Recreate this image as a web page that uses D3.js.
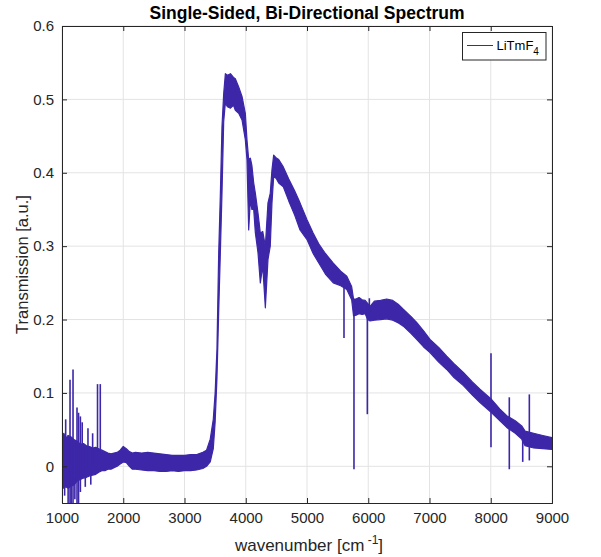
<!DOCTYPE html>
<html><head><meta charset="utf-8">
<script src="https://cdn.jsdelivr.net/npm/d3@7"></script>
<style>body{margin:0;background:#fff}svg{display:block}</style>
</head><body>
<svg id="c" width="601" height="557"></svg>
<script>
// ---- data (envelope of the noisy trace) ----
const wavenumber = [1000,1030,1060,1100,1150,1200,1250,1300,1350,1400,1450,1500,1550,1600,1650,1700,1750,1800,1850,1900,1950,2000,2050,2100,2150,2200,2300,2400,2500,2600,2700,2800,2900,3000,3100,3200,3300,3360,3420,3470,3500,3530,3558,3585,3612,3640,3667,3700,3750,3800,3830,3885,3939,3993,4020,4048,4075,4100,4130,4157,4200,4238,4277,4320,4363,4400,4428,4456,4500,4538,4613,4700,4800,4886,5000,5100,5200,5300,5429,5550,5650,5729,5760,5800,5850,5900,5950,5990,6030,6100,6200,6300,6400,6500,6572,6700,6790,6900,7008,7150,7281,7400,7553,7700,7824,8015,8150,8261,8400,8506,8560,8700,8850,9000];
const upperEnv = [0.040,0.045,0.038,0.042,0.040,0.036,0.034,0.030,0.031,0.028,0.027,0.025,0.026,0.024,0.022,0.020,0.018,0.017,0.018,0.019,0.022,0.027,0.024,0.020,0.018,0.019,0.018,0.019,0.018,0.017,0.016,0.015,0.015,0.015,0.016,0.016,0.019,0.022,0.037,0.064,0.10,0.16,0.29,0.37,0.463,0.508,0.535,0.533,0.535,0.530,0.528,0.517,0.504,0.481,0.445,0.418,0.420,0.410,0.386,0.372,0.345,0.318,0.320,0.300,0.359,0.372,0.404,0.424,0.420,0.418,0.408,0.392,0.375,0.359,0.336,0.318,0.302,0.290,0.277,0.266,0.259,0.245,0.228,0.228,0.230,0.227,0.226,0.222,0.218,0.225,0.226,0.228,0.226,0.220,0.214,0.204,0.196,0.185,0.173,0.162,0.150,0.140,0.128,0.115,0.105,0.091,0.078,0.069,0.062,0.055,0.048,0.045,0.042,0.039];
const lowerEnv = [-0.025,-0.030,-0.028,-0.030,-0.027,-0.025,-0.020,-0.018,-0.016,-0.015,-0.013,-0.012,-0.011,-0.008,-0.006,-0.006,-0.004,-0.004,-0.002,0.000,0.003,0.006,0.005,0.000,-0.004,-0.004,-0.005,-0.006,-0.006,-0.007,-0.007,-0.006,-0.007,-0.006,-0.006,-0.005,-0.003,0.000,0.006,0.024,0.06,0.12,0.21,0.29,0.372,0.47,0.495,0.490,0.488,0.492,0.485,0.481,0.472,0.445,0.418,0.322,0.363,0.350,0.350,0.318,0.291,0.250,0.273,0.216,0.282,0.300,0.359,0.395,0.392,0.386,0.381,0.362,0.342,0.322,0.309,0.290,0.276,0.262,0.250,0.246,0.241,0.227,0.205,0.206,0.208,0.207,0.208,0.200,0.198,0.199,0.200,0.201,0.199,0.195,0.191,0.181,0.173,0.163,0.155,0.142,0.132,0.121,0.110,0.097,0.087,0.073,0.062,0.053,0.045,0.037,0.028,0.025,0.024,0.023];
// isolated spikes (top / bottom value of each)
const spikeWn     = [1043,1060,1100,1131,1150,1180,1210,1245,1270,1300,1330,1380,1424,1470,1500,1580,1625,5604,5767,5985,6018,8004,8303,8522,8630];
const spikeTop    = [0.030,0.064,0.035,0.118,0.035,0.132,0.035,0.080,0.073,0.068,0.060,0.025,0.052,0.025,0.045,0.112,0.112,0.255,0.228,0.222,0.229,0.154,0.094,0.050,0.098];
const spikeBottom = [-0.040,-0.020,-0.060,-0.060,-0.060,-0.060,-0.045,-0.060,-0.060,-0.035,-0.010,-0.028,0.000,-0.025,0.000,0.020,0.020,0.175,-0.004,0.071,0.205,0.026,-0.004,0.006,0.008];
const xTicks = [1000,2000,3000,4000,5000,6000,7000,8000,9000];
const yTicks = [0,0.1,0.2,0.3,0.4,0.5,0.6];
const seriesName = "LiTmF";

const svg = d3.select("#c");
const M = {l:62, r:552, t:26, b:503};
const x = d3.scaleLinear().domain([1000,9000]).range([M.l, M.r]);
const y = d3.scaleLinear().domain([-0.05,0.6]).range([M.b, M.t]);
const col = "#3d27a8", axc = "#262626", font = "Liberation Sans, Arial, Helvetica, sans-serif";

svg.append("defs").append("clipPath").attr("id","clip")
  .append("rect").attr("x",M.l).attr("y",M.t).attr("width",M.r-M.l).attr("height",M.b-M.t);

// grid
const g = svg.append("g");
g.selectAll(".gx").data(xTicks).join("line")
  .attr("x1",d=>x(d)).attr("x2",d=>x(d)).attr("y1",M.t).attr("y2",M.b)
  .attr("stroke","#e3e3e3").attr("stroke-width",1);
g.selectAll(".gy").data(yTicks).join("line")
  .attr("y1",d=>y(d)).attr("y2",d=>y(d)).attr("x1",M.l).attr("x2",M.r)
  .attr("stroke","#e3e3e3").attr("stroke-width",1);

// data
const pts = wavenumber.map((w,i)=>({w, hi:upperEnv[i], lo:lowerEnv[i]}));
const plot = svg.append("g").attr("clip-path","url(#clip)");
plot.append("path").datum(pts)
  .attr("d", d3.area().x(d=>x(d.w)).y0(d=>y(d.lo)).y1(d=>y(d.hi)))
  .attr("fill",col).attr("stroke",col).attr("stroke-width",1.2).attr("stroke-linejoin","round");
plot.selectAll(".sp").data(spikeWn.map((w,i)=>({w,t:spikeTop[i],b:spikeBottom[i]}))).join("line")
  .attr("x1",d=>x(d.w)).attr("x2",d=>x(d.w)).attr("y1",d=>y(d.t)).attr("y2",d=>y(d.b))
  .attr("stroke",col).attr("stroke-width",1.6);

// axes (box with inward ticks on all sides)
const tl = 5;
const axB = d3.axisBottom(x).tickValues(xTicks).tickSize(-tl).tickPadding(9).tickFormat(d3.format("d"));
const axT = d3.axisTop(x).tickValues(xTicks).tickSize(-tl).tickFormat("");
const axL = d3.axisLeft(y).tickValues(yTicks).tickSize(-tl).tickPadding(8).tickFormat(d=>d===0?"0":d3.format(".1f")(d));
const axR = d3.axisRight(y).tickValues(yTicks).tickSize(-tl).tickFormat("");
function styleAxis(sel){
  sel.selectAll("path,line").attr("stroke",axc);
  sel.select(".domain").attr("stroke-width",1);
  sel.selectAll("text").attr("fill",axc).style("font-family",font).style("font-size","15px");
}
svg.append("g").attr("transform",`translate(0,${M.b})`).call(axB).call(styleAxis);
svg.append("g").attr("transform",`translate(0,${M.t})`).call(axT).call(styleAxis);
svg.append("g").attr("transform",`translate(${M.l},0)`).call(axL).call(styleAxis);
svg.append("g").attr("transform",`translate(${M.r},0)`).call(axR).call(styleAxis);

// title & labels
svg.append("text").attr("x",(M.l+M.r)/2).attr("y",19).attr("text-anchor","middle")
  .style("font-family",font).style("font-size","17.5px").style("font-weight","bold").attr("fill","#000")
  .text("Single-Sided, Bi-Directional Spectrum");
const xl = svg.append("text").attr("x",(M.l+M.r)/2+2).attr("y",551).attr("text-anchor","middle")
  .style("font-family",font).style("font-size","17px").attr("fill",axc);
xl.append("tspan").text("wavenumber [cm");
xl.append("tspan").attr("dy",-7).style("font-size","12px").text(" -1");
xl.append("tspan").attr("dy",7).text("]");
svg.append("text").attr("transform",`translate(28,${(M.t+M.b)/2}) rotate(-90)`).attr("text-anchor","middle")
  .style("font-family",font).style("font-size","16.5px").attr("fill",axc)
  .text("Transmission [a.u.]");

// legend
const lg = svg.append("g");
lg.append("rect").attr("x",462.5).attr("y",32.5).attr("width",83.5).attr("height",27.5)
  .attr("fill","#fff").attr("stroke",axc).attr("stroke-width",1);
lg.append("line").attr("x1",467).attr("x2",493).attr("y1",45.5).attr("y2",45.5).attr("stroke",col).attr("stroke-width",1);
const lt = lg.append("text").attr("x",496.5).attr("y",50).style("font-family",font).style("font-size","13px").attr("fill","#000");
lt.append("tspan").text(seriesName);
lt.append("tspan").attr("dy",5).style("font-size","10px").text("4");
</script>
</body></html>
